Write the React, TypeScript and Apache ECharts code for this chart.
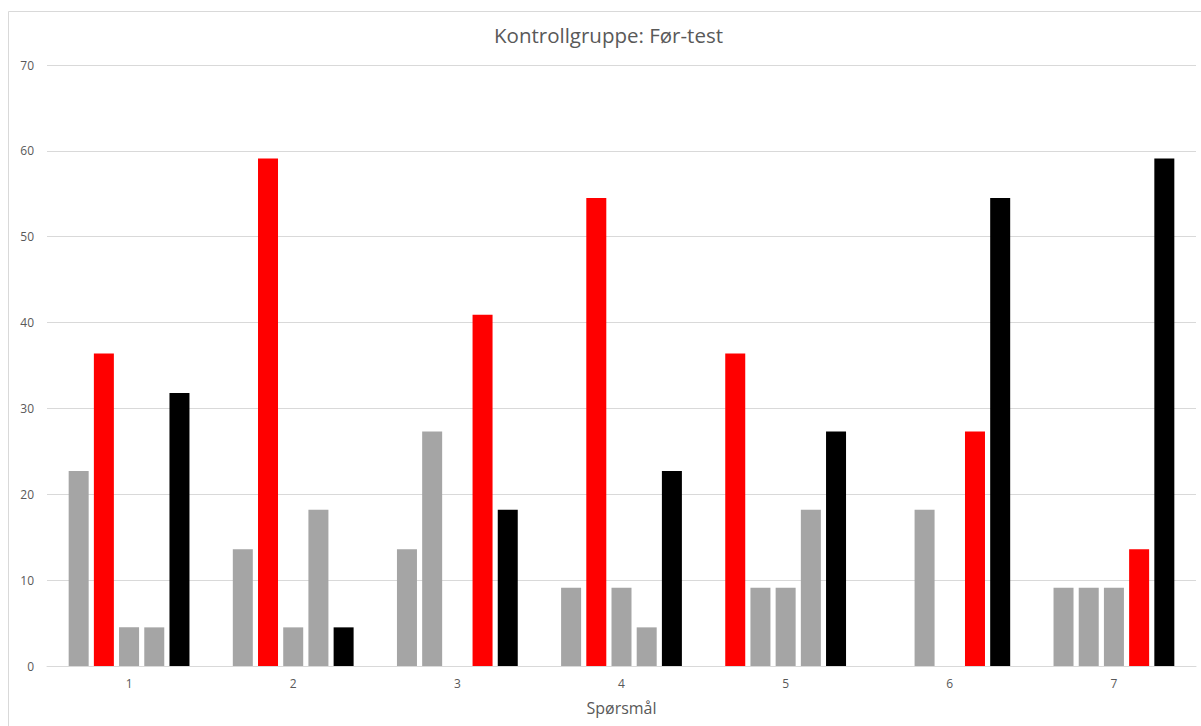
import React, { useEffect, useRef } from "react";
import * as echarts from "echarts";

const categories = ["1", "2", "3", "4", "5", "6", "7"];
const seriesA = [22.7, 13.6, 13.6, 9.1, 36.4, 0, 9.1];
const seriesB = [36.4, 59.1, 27.3, 54.5, 9.1, 18.2, 9.1];
const seriesC = [4.5, 4.5, 0, 9.1, 9.1, 0, 9.1];
const seriesD = [4.5, 18.2, 40.9, 4.5, 18.2, 27.3, 13.6];
const seriesE = [31.8, 4.5, 18.2, 22.7, 27.3, 54.5, 59.1];
// index (0-based) of the correct answer option per question
const correctIndex = [1, 1, 3, 1, 0, 3, 3];
const blankIndex = 4;

const GRAY = "#a5a5a5";
const RED = "#ff0000";
const BLACK = "#000000";

export default function App() {
  const ref = useRef<HTMLDivElement>(null);
  useEffect(() => {
    if (!ref.current) return;
    const chart = echarts.init(ref.current, undefined, { renderer: "svg" });
    const all = [seriesA, seriesB, seriesC, seriesD, seriesE];
    const series = all.map((vals, si) => ({
      type: "bar",
      name: "Alt " + (si + 1),
      barWidth: 20,
      barGap: "26%",
      data: vals.map((v, ci) => ({
        value: v,
        itemStyle: {
          color: si === blankIndex ? BLACK : si === correctIndex[ci] ? RED : GRAY,
        },
      })),
    }));
    chart.setOption({
      animation: false,
      backgroundColor: "#ffffff",
      textStyle: { fontFamily: "Open Sans" },
      title: {
        text: "Kontrollgruppe: Før-test",
        left: 494,
        top: 24,
        padding: 0,
        textStyle: { color: "#595959", fontSize: 20.5, fontWeight: "normal", fontFamily: "Open Sans" },
      },
      graphic: [
        {
          type: "rect",
          shape: { x: 8.5, y: 11.5, width: 1300, height: 800 },
          style: { fill: "none", stroke: "#d9d9d9", lineWidth: 1 },
          silent: true,
        },
      ],
      grid: { left: 47, right: 5, top: 65, bottom: 60 },
      xAxis: {
        type: "category",
        data: categories,
        name: "Spørsmål",
        nameLocation: "middle",
        nameGap: 34,
        nameTextStyle: { color: "#595959", fontSize: 16 },
        axisLine: { lineStyle: { color: "#d9d9d9" } },
        axisTick: { show: false },
        axisLabel: { color: "#595959", fontSize: 12, margin: 11 },
      },
      yAxis: {
        type: "value",
        min: 0,
        max: 70,
        interval: 10,
        axisLine: { show: false },
        axisTick: { show: false },
        axisLabel: { color: "#595959", fontSize: 12, margin: 13 },
        splitLine: { lineStyle: { color: "#d9d9d9" } },
      },
      series,
    });
    return () => chart.dispose();
  }, []);
  return (
    <div
      ref={ref}
      style={{ position: "absolute", left: 0, top: 0, width: 1201, height: 726 }}
    />
  );
}
